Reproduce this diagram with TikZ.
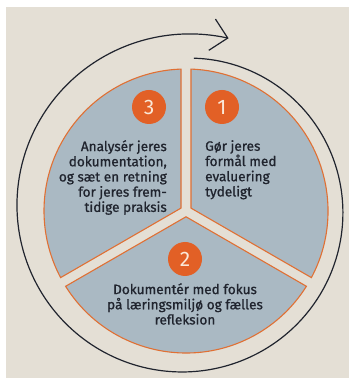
\documentclass[tikz,border=0pt]{standalone}
\usepackage{fontspec}
\setmainfont{Fira Sans}
\newfontfamily\stepfont{Fira Sans}[FakeBold=0.9]
\usepackage{tikz}
\usetikzlibrary{calc,arrows.meta}
\definecolor{paper}{RGB}{228,223,213}
\definecolor{slate}{RGB}{170,185,195}
\definecolor{rust}{RGB}{226,96,38}
\definecolor{rustline}{RGB}{224,112,52}
\definecolor{ink}{RGB}{32,36,46}
\definecolor{cream}{RGB}{250,232,216}
% one slice of the pie: centre, bisector angle, radius, half gap
\def\pieslice(#1)(#2:#3:#4){\draw[slice] ($(#1)+(#2:{#4/sin(60)})$) -- ($(#1)+({#2-60+asin(#4/#3)}:#3)$) arc[start angle={#2-60+asin(#4/#3)}, end angle={#2+60-asin(#4/#3)}, radius=#3pt] -- cycle;}

\begin{document}
\begin{tikzpicture}[x=1pt,y=1pt,
  slice/.style={fill=slate, draw=rustline, line width=1.1pt},
  numdot/.style={circle, fill=rust, text=cream, minimum size=34pt, inner sep=0pt, font=\fontsize{21}{21}\selectfont},
  steptext/.style={text=ink, inner sep=0pt, font=\stepfont\fontsize{13.6}{15.2}\selectfont}]
			%%%%% START %%%%%
			\useasboundingbox (0,0) rectangle (349,380);
			\fill[white] (0,0) rectangle (349,380);
			\fill[paper] (6,2) rectangle (349,373);
			
			\coordinate (mid) at (186,169);
			
			\pieslice(mid)(30:142:5)
			\pieslice(mid)(270:142:5)
			\pieslice(mid)(150:142:5)
			
			\draw[ink, line width=1.2pt, -{Straight Barb[length=16pt, width=32pt, line width=1.2pt]}]
				plot[domain=87:-284, samples=180, smooth] ({186+(151+25*(87-\x)/371)*cos(\x)}, {171+(151+25*(87-\x)/371)*sin(\x)});
			
			\node[numdot] (one) at (222,273) {1};
			\node[numdot] (two) at (185,121) {2};
			\node[numdot] (three) at (149,273) {3};
			
			\node[steptext, align=left, anchor=north west] (onetext) at (205,240) {Gør jeres\\formål med\\evaluering\\tydeligt};
			\node[steptext, align=center, anchor=north] (twotext) at (185,97) {Dokumentér med fokus\\på læringsmiljø og fælles\\refleksion};
			\node[steptext, align=right, anchor=north east] (threetext) at (167,240) {Analysér jeres\\dokumentation,\\og sæt en retning\\for jeres frem-\\tidige praksis};
			%%%%% END %%%%%
		\end{tikzpicture}
\end{document}
